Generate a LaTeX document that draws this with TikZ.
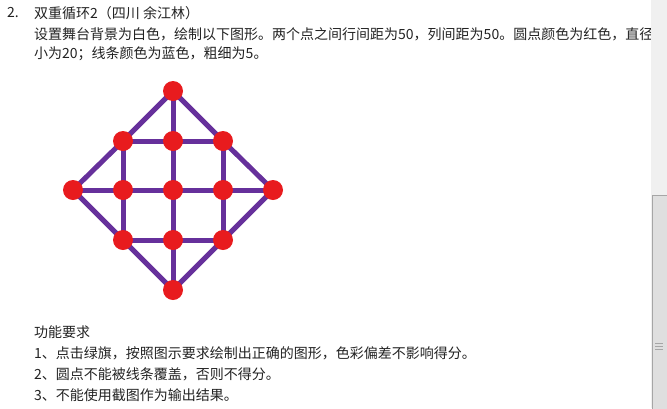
\documentclass[tikz,border=0pt]{standalone}
\usepackage{fontspec}
\newfontfamily\cjk{Noto Sans CJK SC}
\usetikzlibrary{backgrounds}

\definecolor{dotred}{HTML}{E81B1E}
\definecolor{linepurple}{HTML}{66309B}
\definecolor{txtgray}{HTML}{222222}

\begin{document}
\begin{tikzpicture}[
      x=1pt, y=-1pt,
      font=\cjk\fontsize{14}{16}\selectfont,
      txt/.style={anchor=west, inner sep=0pt, text=txtgray},
      dot/.style={circle, fill=dotred, minimum size=20pt, inner sep=0pt},
      link/.style={draw=linepurple, line width=5pt},
      track/.style={fill=gray!12, draw=none},
      thumb/.style={fill=gray!25, draw=gray!70, line width=0.8pt}
    ]

    \useasboundingbox (0,0) rectangle (667,408);

    % Texto do enunciado
    \node[txt] (num) at (7,13) {2.};
    \node[txt] (titulo) at (34,13) {双重循环2（四川 余江林）};
    \node[txt] (linha1) at (34,34) {设置舞台背景为白色，绘制以下图形。两个点之间行间距为50，列间距为50。圆点颜色为红色，直径};
    \node[txt] (linha2) at (34,54) {小为20；线条颜色为蓝色，粗细为5。};

    % Linha 0: topo
    \node[dot] (p0) at (173,91) {};

    % Linha 1
    \node[dot] (p11) at (123,141) {};
    \node[dot] (p12) at (173,141) {};
    \node[dot] (p13) at (223,141) {};

    % Linha 2
    \node[dot] (p21) at (73,190) {};
    \node[dot] (p22) at (123,190) {};
    \node[dot] (p23) at (173,190) {};
    \node[dot] (p24) at (223,190) {};
    \node[dot] (p25) at (273,190) {};

    % Linha 3
    \node[dot] (p31) at (123,240) {};
    \node[dot] (p32) at (173,240) {};
    \node[dot] (p33) at (223,240) {};

    % Linha 4: base
    \node[dot] (p4) at (173,290) {};

    % Linhas por baixo dos pontos
    \begin{pgfonlayer}{background}
    \draw[link] (p0.center) -- (p11.center);
    \draw[link] (p0.center) -- (p13.center);
    \draw[link] (p0.center) -- (p12.center);
    \draw[link] (p11.center) -- (p13.center);
    \draw[link] (p11.center) -- (p21.center);
    \draw[link] (p13.center) -- (p25.center);
    \draw[link] (p21.center) -- (p25.center);
    \draw[link] (p21.center) -- (p31.center);
    \draw[link] (p25.center) -- (p33.center);
    \draw[link] (p31.center) -- (p33.center);
    \draw[link] (p31.center) -- (p4.center);
    \draw[link] (p33.center) -- (p4.center);
    \draw[link] (p11.center) -- (p31.center);
    \draw[link] (p12.center) -- (p32.center);
    \draw[link] (p13.center) -- (p33.center);
    \draw[link] (p32.center) -- (p4.center);
    \end{pgfonlayer}

    % Requisitos
    \node[txt] (req) at (34,332) {功能要求};
    \node[txt] (req1) at (34,353) {1、点击绿旗，按照图示要求绘制出正确的图形，色彩偏差不影响得分。};
    \node[txt] (req2) at (34,374) {2、圆点不能被线条覆盖，否则不得分。};
    \node[txt] (req3) at (34,395) {3、不能使用截图作为输出结果。};

    % Barra de rolagem
    \node[track, minimum width=16pt, minimum height=408pt, inner sep=0pt, anchor=north west] (barra) at (651,0) {};
    \node[thumb, minimum width=15pt, minimum height=214pt, inner sep=0pt, anchor=north west] (cursor) at (651.5,195) {};
    \draw[gray!70, line width=0.8pt] (655,343) -- (663,343) (655,346) -- (663,346) (655,349) -- (663,349);

    \end{tikzpicture}
\end{document}
